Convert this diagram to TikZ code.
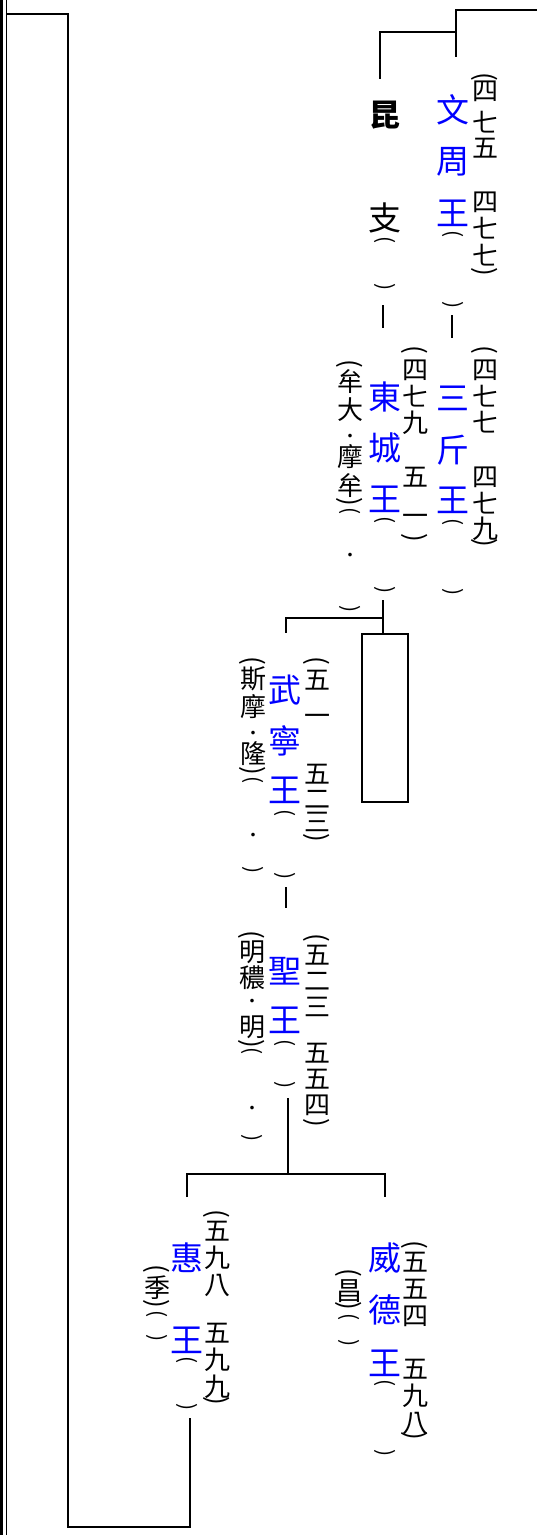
\documentclass[tikz,border=0pt]{standalone}
\usepackage{fontspec}
\setmainfont{Noto Sans CJK TC}
\usepackage{graphicx}
\newcommand\lp{\rotatebox{-90}{(}}
\newcommand\rp{\rotatebox{-90}{)}}
\newcommand\dt{{\fontsize{17}{17}\selectfont ·}}
\tikzset{
  kname/.style={text=blue, font=\fontsize{33}{33}\selectfont, inner sep=0pt},
  bname/.style={text=black, font=\fontsize{33}{33}\selectfont, inner sep=0pt},
  vpar/.style={text=black, font=\fontsize{21}{21}\selectfont, inner sep=0pt},
  small/.style={text=black, font=\fontsize{26}{26}\selectfont, inner sep=0pt},
  ln/.style={line width=1.8pt, line join=miter},
}
\newcommand\vcol[4]{\foreach \yy/\tx [count=\ii] in {#4} {\node[#3] (#1-\ii) at (#2,\yy) {\tx};}}
\begin{document}
\begin{tikzpicture}[x=1pt,y=-1pt]
\useasboundingbox (0,0) rectangle (537,1535);
% left border
\coordinate (bt1) at (1.5,0); \coordinate (bb1) at (1.5,1535);
\coordinate (bt2) at (6.5,0); \coordinate (bb2) at (6.5,1535);
\draw[line width=3pt] (bt1) -- (bb1);
\draw[line width=1.5pt] (bt2) -- (bb2);

% 文周王
\vcol{wz}{453}{kname}{110/文,162/周,213/王}
\vcol{wzp}{453}{vpar}{234/\lp,305/\rp}
\vcol{wzd}{485}{small}{77/\lp,91/四,122/七,148/五,202/四,228/七,255/七,272/\rp}
% 昆支
\node[bname, font=\fontsize{31}{31}\selectfont\bfseries] (kz-1) at (385,115) {昆};
\node[bname] (kz-2) at (385,218) {支};
\vcol{kzp}{385}{vpar}{240/\lp,287/\rp}
% 三斤王
\vcol{sg}{453}{kname}{398/三,450/斤,500/王}
\vcol{sgp}{453}{vpar}{522/\lp,592/\rp}
\vcol{sgd}{485}{small}{350/\lp,370/四,396/七,422/七,477/四,503/七,529/九,543/\rp}
% 東城王
\vcol{ds}{385}{kname}{397/東,448/城,499/王}
\vcol{dsp}{385}{vpar}{520/\lp,590/\rp}
\vcol{dsd}{415}{small}{350/\lp,370/四,396/七,423/九,477/五,520/一,538/\rp}
\vcol{dsn}{350}{small}{364/\lp,382/牟,410/大,438/\dt,457/摩,486/牟,502/\rp,557/\dt}
\vcol{dsnp}{350}{vpar}{511/\lp,609/\rp}
% 武寧王
\vcol{mn}{285}{kname}{690/武,741/寧,790/王}
\vcol{mnp}{285}{vpar}{813/\lp,876/\rp}
\vcol{mnd}{317}{small}{661/\lp,680/五,720/一,774/五,799/二,822/三,838/\rp}
\vcol{mnn}{253}{small}{661/\lp,679/斯,707/摩,735/\dt,754/隆,771/\rp,837/\dt}
\vcol{mnnp}{253}{vpar}{780/\lp,870/\rp}
% 聖王
\vcol{sw}{285}{kname}{971/聖,1020/王}
\vcol{swp}{285}{vpar}{1043/\lp,1085/\rp}
\vcol{swd}{317}{small}{938/\lp,955/五,981/二,1007/三,1053/五,1079/五,1105/四,1123/\rp}
\vcol{swn}{252}{small}{935/\lp,952/明,978/穠,1003/\dt,1027/明,1044/\rp,1110/\dt}
\vcol{swnp}{252}{vpar}{1051/\lp,1138/\rp}
% 惠王
\vcol{hy}{187}{kname}{1258/惠,1340/王}
\vcol{hyp}{187}{vpar}{1360/\lp,1407/\rp}
\vcol{hyd}{217}{small}{1214/\lp,1231/五,1258/九,1285/八,1333/五,1360/九,1387/九,1401/\rp}
\vcol{hyn}{157}{small}{1269/\lp,1288/季,1304/\rp}
\vcol{hynp}{157}{vpar}{1314/\lp,1338/\rp}
% 威德王
\vcol{wd}{385}{kname}{1258/威,1310/德,1363/王}
\vcol{wdp}{385}{vpar}{1383/\lp,1453/\rp}
\vcol{wdd}{415}{small}{1245/\lp,1262/五,1289/五,1316/四,1369/五,1396/九,1423/八,1436/\rp}
\vcol{wdn}{349}{small}{1273/\lp,1291/昌,1306/\rp}
\vcol{wdnp}{349}{vpar}{1317/\lp,1343/\rp}

% box
\node[draw, ln, minimum width=46pt, minimum height=168pt, inner sep=0pt] (box) at (385,718) {};

% connector coordinates
\coordinate (topR) at (537,10);
\coordinate (wzTop) at (456,57);
\coordinate (wzJ) at (456,32);
\coordinate (kzTop) at (380,79);
\coordinate (kzBot) at (383,305);
\coordinate (dsTop) at (383,328);
\coordinate (wzBot) at (452,315);
\coordinate (sgTop) at (452,338);
\coordinate (dsBot) at (383,600);
\coordinate (dsJ) at (383,618);
\coordinate (mnTop) at (286,633);
\coordinate (mnBot) at (286,887);
\coordinate (swTop) at (286,908);
\coordinate (swBot) at (288,1098);
\coordinate (swJ) at (288,1174);
\coordinate (hyTop) at (187,1197);
\coordinate (wdJ) at (385,1174);
\coordinate (wdTop) at (385,1197);
\coordinate (hyBot) at (190,1418);
\coordinate (cBL) at (68,1527);
\coordinate (cTL) at (7,14);

\draw[ln] (topR) -| (wzTop);
\draw[ln] (wzJ) -| (kzTop);
\draw[ln] (kzBot) -- (dsTop);
\draw[ln] (wzBot) -- (sgTop);
\draw[ln] (dsBot) -- (dsBot |- box.north);
\draw[ln] (dsJ) -| (mnTop);
\draw[ln] (mnBot) -- (swTop);
\draw[ln] (swBot) -- (swJ);
\draw[ln] (hyTop) |- (wdJ) -- (wdTop);
\draw[ln] (hyBot) |- (cBL) |- (cTL);
\end{tikzpicture}
\end{document}
